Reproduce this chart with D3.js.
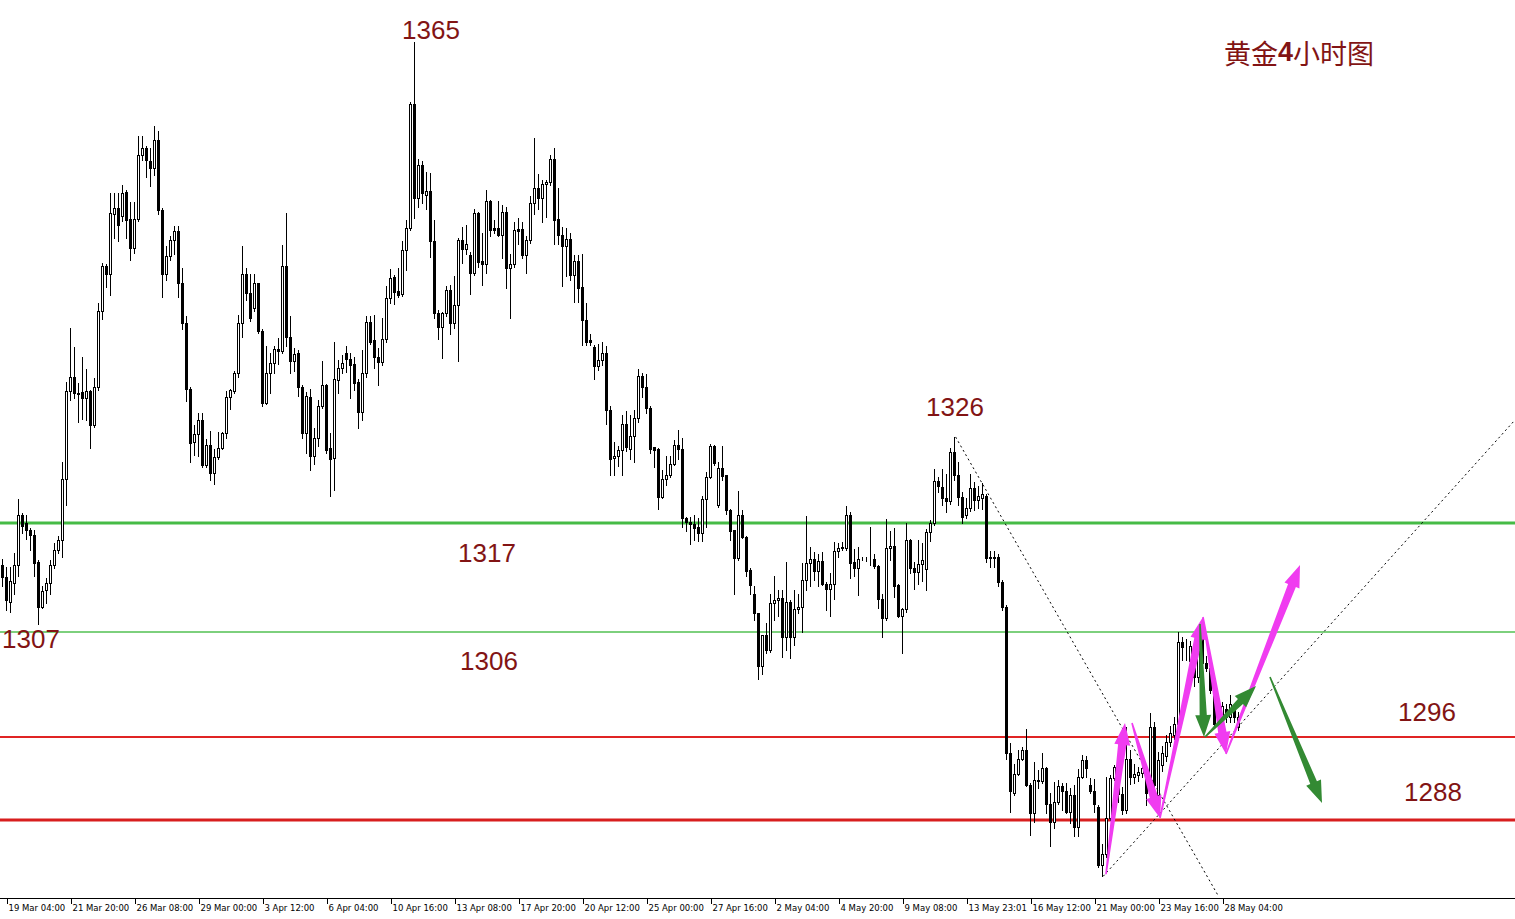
<!DOCTYPE html>
<html><head><meta charset="utf-8">
<script src="https://cdn.jsdelivr.net/npm/d3@7"></script>
<style>html,body{margin:0;padding:0;background:#fff;overflow:hidden}</style>
</head><body>
<svg id="c" width="1515" height="919"></svg>
<script>
const openP=[
1312.9,1311.7,1309.3,1311.1,1312.9,1317.8,1317.0,1316.3,1315.8,1313.2,
1308.8,1310.5,1311.1,1312.9,1314.4,1315.3,1321.3,1329.9,1331.3,1329.7,
1329.8,1329.2,1329.9,1326.6,1330.3,1337.7,1342.1,1341.3,1347.2,1347.8,
1347.0,1349.3,1346.7,1343.9,1346.7,1352.9,1353.6,1352.3,1351.7,1354.4,
1347.6,1341.3,1343.1,1344.6,1345.5,1340.4,1336.5,1330.1,1324.9,1325.7,
1327.1,1322.7,1324.6,1321.9,1323.4,1324.3,1325.8,1329.3,1329.9,1331.6,
1336.5,1341.3,1339.5,1338.0,1340.4,1335.7,1328.7,1331.6,1332.6,1334.0,
1333.8,1342.1,1335.2,1332.8,1333.6,1330.3,1325.8,1329.3,1323.5,1325.3,
1328.4,1330.5,1324.3,1323.3,1331.0,1332.1,1333.6,1333.0,1332.5,1330.8,
1327.8,1331.6,1336.6,1334.9,1333.2,1332.7,1335.0,1339.0,1341.0,1339.7,
1339.4,1343.7,1345.8,1357.9,1348.7,1352.0,1349.0,1349.4,1344.5,1337.5,
1336.1,1337.5,1339.8,1336.5,1338.3,1344.6,1343.8,1343.2,1341.4,1347.3,
1342.6,1342.3,1348.4,1345.8,1345.8,1345.1,1347.4,1341.9,1342.3,1345.7,
1345.7,1343.2,1344.6,1348.2,1349.7,1348.7,1350.1,1350.3,1352.5,1346.7,
1345.1,1344.0,1344.7,1341.2,1342.6,1340.0,1336.8,1334.9,1334.2,1332.3,
1332.9,1333.6,1328.0,1323.3,1323.5,1324.1,1326.7,1324.2,1325.5,1327.3,
1331.4,1330.3,1328.2,1324.4,1324.2,1319.5,1321.3,1321.7,1322.8,1324.6,
1324.2,1317.5,1317.1,1316.9,1316.6,1316.0,1319.3,1321.5,1324.5,1318.8,
1322.4,1321.7,1318.3,1316.3,1313.6,1317.8,1315.6,1312.4,1310.1,1308.2,
1303.0,1306.1,1304.6,1309.2,1309.5,1309.7,1305.9,1309.3,1305.9,1308.6,
1308.8,1311.4,1313.1,1313.5,1312.3,1313.3,1311.0,1310.6,1311.0,1314.3,
1314.6,1314.6,1317.8,1313.2,1312.6,1313.5,1313.5,1313.5,1313.5,1312.8,
1309.6,1307.7,1314.6,1314.8,1310.9,1307.9,1308.6,1315.3,1312.6,1312.2,
1313.0,1312.5,1316.1,1317.0,1321.1,1320.5,1319.4,1319.1,1323.9,1321.7,
1319.5,1317.8,1318.5,1320.4,1319.2,1319.4,1319.6,1313.6,1313.7,1313.7,
1311.2,1308.8,1294.5,1290.6,1292.5,1294.0,1294.8,1291.4,1288.7,1291.9,
1291.8,1293.1,1289.6,1287.8,1289.8,1291.3,1290.8,1288.8,1290.4,1287.3,
1292.2,1293.9,1291.4,1290.8,1289.3,1283.6,1284.7,1288.2,1292.1,1293.2,
1290.5,1289.0,1294.0,1292.2,1292.4,1292.6,1293.1,1290.6,1297.1,1290.4,
1293.4,1294.2,1295.6,1296.3,1297.4,1305.4,1304.9,1303.5,1305.0,1302.0,
1305.9,1303.3,1302.8,1300.7,1298.4,1297.4,1298.8,1298.1,1298.8,1297.1];
const highP=[
1313.5,1312.7,1312.7,1314.1,1319.3,1318.0,1317.8,1316.5,1316.3,1313.4,
1310.8,1311.6,1313.4,1315.0,1315.7,1323.0,1330.8,1336.0,1334.2,1330.7,
1333.2,1332.0,1330.0,1331.2,1338.5,1342.4,1342.3,1349.2,1349.2,1349.2,
1350.0,1349.5,1348.3,1348.3,1354.8,1354.8,1353.8,1353.6,1355.8,1355.3,
1347.8,1344.0,1345.0,1346.0,1346.0,1341.9,1337.2,1330.3,1326.6,1327.7,
1327.7,1325.2,1326.0,1324.2,1325.9,1325.9,1329.9,1330.1,1331.8,1337.3,
1344.0,1341.9,1341.3,1341.3,1340.4,1335.9,1334.3,1333.6,1334.3,1335.1,
1344.1,1347.3,1337.2,1334.1,1333.9,1330.5,1329.8,1330.1,1326.3,1329.0,
1332.8,1330.6,1325.8,1334.7,1332.9,1333.4,1334.3,1333.6,1333.2,1331.1,
1333.9,1337.2,1337.2,1337.3,1334.1,1337.0,1340.1,1341.8,1341.2,1341.9,
1344.5,1346.6,1358.1,1364.0,1352.5,1352.3,1351.3,1351.2,1346.6,1337.8,
1337.6,1340.1,1340.2,1341.1,1344.8,1345.9,1346.1,1343.5,1347.7,1347.4,
1345.3,1349.5,1348.5,1346.6,1348.4,1348.1,1347.9,1343.3,1346.4,1346.8,
1346.4,1345.0,1348.9,1354.6,1351.1,1350.5,1350.5,1352.9,1353.6,1349.7,
1345.9,1345.8,1345.3,1343.2,1343.2,1343.3,1338.5,1335.5,1334.4,1334.5,
1334.7,1334.3,1328.4,1324.9,1324.5,1327.5,1327.9,1327.5,1328.0,1332.0,
1331.6,1331.5,1328.4,1324.4,1324.3,1322.2,1323.5,1323.5,1325.1,1326.1,
1325.3,1317.6,1317.6,1317.8,1317.5,1319.6,1322.0,1324.7,1324.6,1323.0,
1324.5,1321.7,1318.4,1316.3,1320.1,1318.3,1315.7,1312.6,1310.8,1308.2,
1306.1,1307.2,1310.1,1311.8,1310.5,1310.5,1313.2,1309.5,1310.5,1310.1,
1313.1,1317.7,1314.7,1314.2,1314.0,1314.2,1311.2,1312.1,1315.1,1315.0,
1315.1,1318.7,1318.1,1314.5,1314.7,1313.7,1313.7,1316.6,1314.0,1312.9,
1310.1,1317.4,1316.2,1316.5,1311.0,1308.7,1317.0,1315.4,1313.2,1315.3,
1315.0,1316.4,1317.3,1322.3,1321.5,1322.3,1321.8,1324.3,1325.4,1323.0,
1320.0,1319.4,1321.8,1321.0,1320.6,1320.9,1319.8,1314.3,1314.3,1314.0,
1311.4,1309.0,1295.5,1293.5,1294.8,1295.1,1296.9,1291.6,1293.7,1292.9,
1294.5,1293.2,1290.6,1291.7,1291.9,1291.6,1291.6,1291.1,1291.4,1293.0,
1294.3,1294.2,1292.1,1292.0,1289.5,1285.7,1292.2,1292.4,1293.4,1294.0,
1291.2,1297.1,1294.8,1293.5,1293.2,1293.9,1293.4,1298.4,1297.6,1294.6,
1295.2,1296.3,1297.2,1298.1,1306.4,1305.9,1305.7,1305.5,1305.6,1306.3,
1306.6,1304.0,1303.2,1301.0,1298.8,1299.5,1299.3,1300.2,1299.3,1298.5];
const lowP=[
1310.8,1308.5,1308.3,1310.1,1311.8,1316.0,1315.4,1314.4,1311.8,1307.1,
1308.7,1309.2,1310.1,1312.6,1314.1,1313.7,1318.8,1329.0,1329.2,1326.9,
1327.2,1327.1,1324.3,1326.4,1330.0,1336.9,1340.0,1339.3,1344.8,1344.5,
1346.5,1344.8,1342.7,1343.4,1346.5,1352.4,1350.8,1349.9,1351.0,1347.2,
1339.1,1340.7,1342.7,1343.3,1339.1,1335.9,1328.9,1323.0,1323.6,1323.5,
1322.5,1322.5,1321.2,1320.8,1323.2,1324.2,1325.3,1328.1,1329.7,1331.3,
1335.2,1338.8,1336.7,1337.7,1335.6,1328.4,1328.6,1329.7,1331.6,1332.5,
1333.6,1334.3,1331.6,1331.8,1329.4,1325.3,1323.8,1322.2,1322.8,1324.5,
1328.2,1323.8,1319.6,1320.2,1329.7,1331.6,1331.7,1329.2,1330.0,1326.3,
1327.1,1331.3,1334.5,1332.1,1330.5,1332.4,1334.7,1338.5,1338.4,1339.1,
1339.2,1341.7,1345.6,1346.8,1347.9,1348.2,1347.7,1343.0,1337.0,1335.0,
1333.1,1337.2,1335.5,1336.0,1332.8,1342.4,1343.3,1339.4,1341.2,1342.0,
1340.2,1341.4,1345.0,1345.3,1345.0,1342.9,1339.9,1337.0,1342.0,1344.2,
1342.9,1341.4,1344.3,1347.2,1347.7,1346.4,1346.9,1350.0,1344.2,1344.2,
1340.1,1341.1,1340.7,1338.6,1338.6,1334.4,1334.4,1334.4,1331.1,1331.9,
1332.4,1326.7,1321.7,1321.7,1322.6,1321.7,1324.0,1323.2,1323.0,1326.9,
1329.3,1327.7,1323.8,1322.5,1318.4,1319.4,1320.7,1321.5,1322.7,1323.2,
1316.6,1316.2,1314.9,1315.3,1315.2,1315.2,1316.6,1321.4,1322.7,1318.6,
1321.2,1317.9,1315.3,1310.1,1313.4,1315.5,1311.8,1310.1,1307.5,1301.8,
1302.3,1304.3,1304.4,1307.5,1307.9,1303.9,1304.6,1303.8,1305.1,1308.2,
1306.4,1310.5,1310.8,1311.4,1310.8,1310.9,1308.5,1307.9,1309.6,1313.7,
1314.4,1314.4,1311.6,1311.8,1310.0,1313.4,1313.3,1312.9,1312.6,1308.7,
1305.9,1307.5,1313.4,1309.8,1307.8,1304.3,1308.3,1312.1,1310.6,1311.0,
1311.3,1310.5,1315.2,1316.8,1320.0,1318.8,1318.1,1318.9,1321.2,1318.8,
1317.0,1317.5,1318.2,1318.3,1318.5,1318.4,1313.2,1312.7,1312.7,1310.8,
1308.5,1294.0,1288.8,1290.4,1292.4,1293.9,1291.3,1286.5,1287.8,1291.1,
1291.6,1288.7,1285.5,1287.2,1289.6,1289.0,1288.7,1287.7,1286.4,1286.4,
1292.1,1292.2,1290.6,1288.8,1283.4,1282.5,1284.4,1288.0,1291.9,1289.8,
1288.6,1288.7,1291.5,1291.6,1291.8,1292.2,1289.5,1290.2,1290.3,1290.1,
1292.8,1293.8,1295.2,1295.9,1296.9,1303.6,1303.6,1302.4,1301.1,1301.5,
1302.5,1302.5,1300.4,1297.0,1297.2,1297.0,1297.6,1297.6,1297.6,1296.8];
const closeP=[
1311.7,1309.5,1311.3,1312.9,1317.8,1316.7,1316.3,1315.8,1313.1,1308.8,
1310.4,1311.1,1312.9,1314.4,1315.3,1321.3,1329.9,1331.3,1329.7,1329.6,
1329.2,1329.9,1326.6,1330.3,1337.7,1342.1,1341.3,1347.3,1347.8,1346.1,
1349.2,1346.6,1343.9,1346.7,1352.9,1353.6,1352.4,1351.7,1354.4,1347.6,
1341.3,1343.1,1344.6,1345.5,1340.4,1336.5,1330.1,1324.8,1325.7,1327.1,
1322.7,1324.6,1321.9,1323.4,1324.3,1325.8,1329.3,1330.0,1331.6,1336.5,
1341.3,1339.5,1337.0,1340.4,1335.7,1328.7,1331.6,1332.6,1334.0,1333.8,
1342.1,1335.2,1332.8,1333.5,1330.3,1325.8,1329.4,1323.5,1325.3,1328.4,
1330.5,1324.1,1323.2,1331.1,1332.1,1332.6,1333.0,1332.4,1330.7,1327.8,
1331.6,1336.6,1334.7,1333.2,1332.7,1335.0,1339.0,1340.9,1339.6,1339.3,
1343.7,1345.8,1357.9,1348.7,1352.0,1349.2,1349.4,1344.5,1337.5,1336.1,
1337.5,1339.8,1336.5,1338.3,1344.6,1343.8,1344.2,1341.4,1347.3,1342.5,
1342.3,1348.4,1345.6,1345.6,1345.1,1347.4,1341.9,1342.3,1345.6,1345.5,
1343.2,1344.6,1348.2,1349.7,1348.7,1350.1,1350.3,1352.5,1346.6,1345.1,
1344.0,1344.7,1341.2,1342.6,1339.9,1336.8,1334.7,1334.7,1332.3,1332.9,
1333.6,1328.0,1323.2,1323.5,1324.1,1326.7,1324.4,1325.5,1327.3,1331.4,
1330.3,1328.2,1324.2,1324.1,1319.5,1321.3,1321.7,1322.8,1324.6,1324.2,
1317.5,1317.1,1316.9,1316.5,1316.0,1319.3,1321.5,1324.5,1322.9,1322.4,
1321.6,1318.3,1316.2,1313.6,1317.8,1315.6,1312.3,1310.9,1308.2,1303.0,
1306.1,1304.6,1309.2,1309.5,1309.7,1305.9,1309.3,1305.9,1308.6,1308.8,
1311.4,1313.1,1313.5,1312.3,1313.3,1311.0,1310.6,1311.0,1314.3,1314.6,
1314.7,1317.8,1313.1,1312.6,1313.5,1313.5,1313.5,1313.5,1312.8,1309.6,
1307.7,1314.6,1314.8,1310.8,1307.9,1308.6,1315.3,1312.6,1312.2,1313.0,
1313.4,1316.1,1317.0,1321.1,1320.6,1319.4,1319.1,1323.9,1321.7,1319.5,
1317.6,1318.5,1320.4,1319.2,1319.6,1319.8,1313.6,1313.7,1313.6,1311.2,
1308.8,1294.5,1290.8,1292.5,1294.0,1294.8,1291.4,1288.7,1291.9,1291.8,
1293.1,1289.6,1287.8,1289.8,1291.3,1290.8,1288.8,1290.4,1287.3,1292.2,
1293.9,1293.1,1290.8,1289.6,1283.6,1284.7,1288.2,1292.1,1293.2,1290.5,
1289.0,1294.0,1292.2,1292.5,1292.7,1293.1,1290.6,1297.1,1291.4,1293.9,
1294.5,1295.6,1296.5,1297.4,1305.4,1304.9,1304.9,1305.0,1302.0,1304.5,
1303.3,1302.8,1300.7,1297.4,1297.6,1299.1,1298.1,1299.3,1298.1,1298.1];

const tickLabels=["19 Mar 04:00","21 Mar 20:00","26 Mar 08:00","29 Mar 00:00","3 Apr 12:00","6 Apr 04:00","10 Apr 16:00","13 Apr 08:00","17 Apr 20:00","20 Apr 12:00","25 Apr 00:00","27 Apr 16:00","2 May 04:00","4 May 20:00","9 May 08:00","13 May 23:01","16 May 12:00","21 May 00:00","23 May 16:00","28 May 04:00"];
const tickIndex=[1,17,33,49,65,81,97,113,129,145,161,177,193,209,225,241,257,273,289,305];

// horizontal levels
const levelPrice=[1317,1306.35,1296.1,1288];
const levelColor=["#46bb46","#52c052","#e02424","#d81e1e"];
const levelWidth=[3,1.6,2,3];

// price annotations [text, candle index, price]
const noteText=["1365","1326","1317","1306","1307","1296","1288"];
const noteIdx=[107.25,238.25,121.25,121.75,7.25,356.25,357.75];
const notePrice=[1365.14,1328.33,1314.07,1303.52,1305.67,1298.54,1290.73];

// dotted trend lines [i0,p0,i1,p1]
const trendLines=[[238.4,1325.4,304.2,1280.5],[275.3,1282.5,378.25,1327.06]];

// arrows [tailIdx, tailPrice, tipIdx, tipPrice]
const magentaArrows=[[276,1282.7,280.75,1297.47],[282.5,1297.47,289.5,1288.19],[289.5,1288.19,300.25,1307.82],[300.25,1307.82,306,1294.44],[306,1294.44,324.5,1312.9]];
const greenArrows=[[299.5,1307.14,300.5,1296.1],[300.75,1296.1,313.5,1301.08],[317,1301.96,330,1289.66]];

const svg=d3.select("#c");
const x=d3.scaleLinear().domain([0,309]).range([2,1238]);
const y=d3.scaleLinear().domain([1280.38,1368.07]).range([898,0]);

// levels
svg.append("g").selectAll("line").data(levelPrice).join("line")
  .attr("x1",0).attr("x2",1515)
  .attr("y1",d=>y(d)).attr("y2",d=>y(d))
  .attr("stroke",(d,i)=>levelColor[i]).attr("stroke-width",(d,i)=>levelWidth[i]);

// candles
const data=openP.map((o,i)=>({i,o,h:highP[i],l:lowP[i],c:closeP[i]}));
const cg=svg.append("g").attr("shape-rendering","crispEdges");
const px=d=>Math.round(x(d.i));
cg.selectAll("line.w").data(data).join("line").attr("class","w")
  .attr("x1",d=>px(d)+0.5).attr("x2",d=>px(d)+0.5)
  .attr("y1",d=>Math.round(y(Math.max(d.h,d.o,d.c))))
  .attr("y2",d=>Math.round(y(Math.min(d.l,d.o,d.c)))+1)
  .attr("stroke","#000").attr("stroke-width",1);
cg.selectAll("rect.b").data(data).join("rect").attr("class","b")
  .attr("x",d=>px(d)-0.5)
  .attr("y",d=>Math.round(y(Math.max(d.o,d.c)))+0.5)
  .attr("width",2)
  .attr("height",d=>Math.max(0,Math.round(y(Math.min(d.o,d.c)))-Math.round(y(Math.max(d.o,d.c)))))
  .attr("fill",d=>d.c<d.o?"#000":"#fff")
  .attr("stroke","#000").attr("stroke-width",1);

// trend lines
svg.append("g").selectAll("line").data(trendLines).join("line")
  .attr("x1",d=>x(d[0])).attr("y1",d=>y(d[1])).attr("x2",d=>x(d[2])).attr("y2",d=>y(d[3]))
  .attr("stroke","#000").attr("stroke-width",1).attr("stroke-dasharray","2,3");

// arrows
function arrowPath(a,sh,hh,hl){
  const tx=x(a[0]),ty=y(a[1]),px2=x(a[2]),py2=y(a[3]);
  const dx=px2-tx,dy=py2-ty,len=Math.hypot(dx,dy),ux=dx/len,uy=dy/len,nx=-uy,ny=ux;
  const bx=px2-ux*hl,by=py2-uy*hl;
  const pts=[[tx+nx*0.8,ty+ny*0.8],[bx+nx*sh,by+ny*sh],[bx+nx*hh,by+ny*hh],[px2,py2],
    [bx-nx*hh,by-ny*hh],[bx-nx*sh,by-ny*sh],[tx-nx*0.8,ty-ny*0.8]];
  return "M"+pts.map(p=>p.join(",")).join("L")+"Z";
}
svg.append("g").selectAll("path").data(magentaArrows).join("path")
  .attr("d",d=>arrowPath(d,4.2,8,22)).attr("fill","#f03cf0");
svg.append("g").selectAll("path").data(greenArrows).join("path")
  .attr("d",d=>arrowPath(d,3.6,8,22)).attr("fill","#338a33");

// annotations
svg.append("g").selectAll("text").data(noteText).join("text")
  .attr("x",(d,i)=>x(noteIdx[i])).attr("y",(d,i)=>y(notePrice[i]))
  .attr("text-anchor","middle").attr("dominant-baseline","central")
  .attr("font-family","'Liberation Sans',Arial,sans-serif").attr("font-size",26)
  .attr("fill","#821414").text(d=>d);

const t=svg.append("text").attr("x",1299).attr("y",52)
  .attr("text-anchor","middle").attr("dominant-baseline","central")
  .attr("font-family","'Noto Sans CJK SC',sans-serif").attr("font-size",27).attr("fill","#821414");
t.append("tspan").text("黄金");
t.append("tspan").attr("font-family","'Liberation Sans',Arial,sans-serif").attr("font-weight","bold").text("4");
t.append("tspan").text("小时图");

// time axis
const ax=svg.append("g").attr("transform","translate(0,898.5)");
ax.append("line").attr("x1",0).attr("x2",1515).attr("stroke","#000").attr("stroke-width",1);
const axis=d3.axisBottom(x).tickValues(tickIndex).tickFormat((d,i)=>tickLabels[i]).tickSize(5).tickSizeOuter(0);
ax.call(axis);
ax.select(".domain").remove();
ax.selectAll(".tick line").attr("shape-rendering","crispEdges").attr("transform","translate(0.5,0)");
ax.selectAll(".tick text").attr("text-anchor","start").attr("x",2).attr("y",6).attr("dy","0.71em")
  .attr("font-family","'DejaVu Sans',Tahoma,sans-serif").attr("font-size",8.5).attr("fill","#000");
</script>
</body></html>
